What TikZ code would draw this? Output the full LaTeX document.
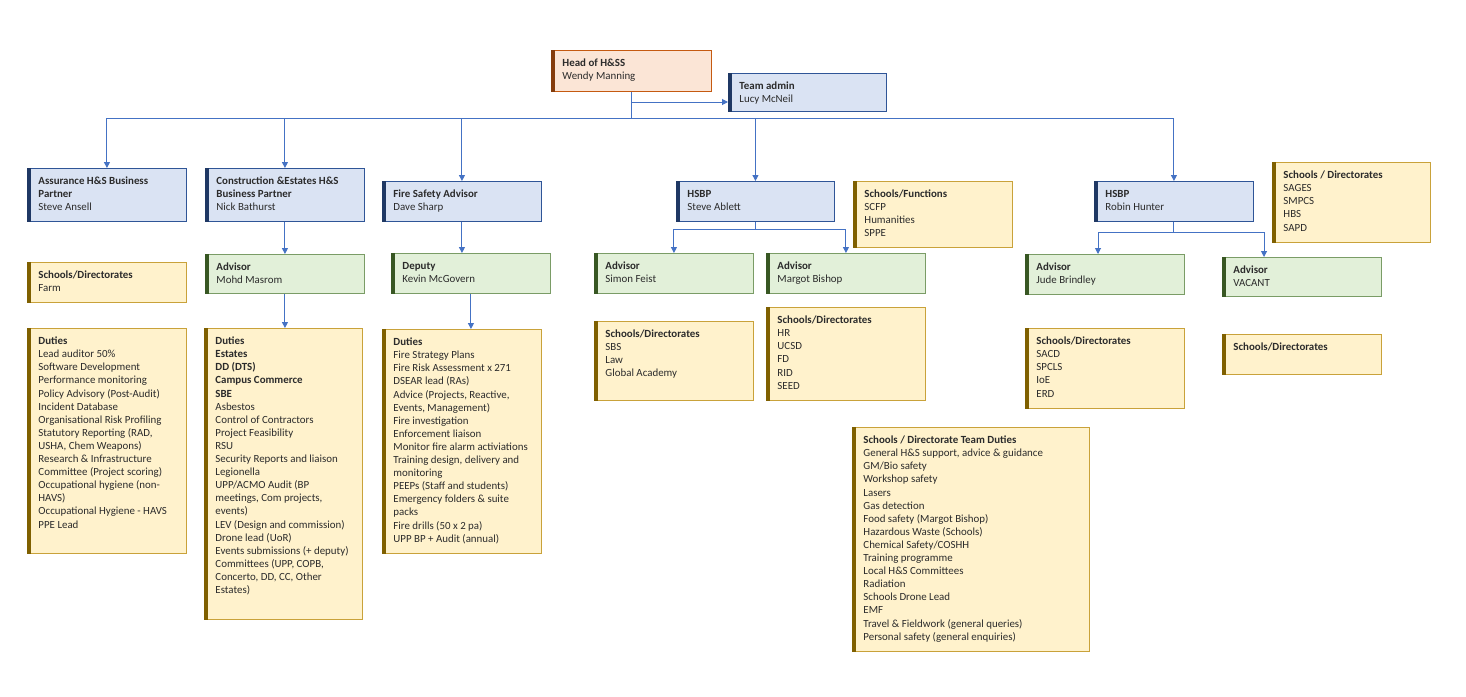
\documentclass[tikz,border=0pt]{standalone}
\usepackage{fontspec}
\setmainfont{Carlito}
\usetikzlibrary{arrows.meta}
\definecolor{txt}{HTML}{2B2B2B}
\definecolor{bluefill}{HTML}{DAE3F3}\definecolor{blueline}{HTML}{2F5597}\definecolor{bluebar}{HTML}{1F3864}
\definecolor{greenfill}{HTML}{E2F0D9}\definecolor{greenline}{HTML}{7A9C66}\definecolor{greenbar}{HTML}{385723}
\definecolor{yellowfill}{HTML}{FFF2CC}\definecolor{yellowline}{HTML}{C9A23A}\definecolor{yellowbar}{HTML}{7F6000}
\definecolor{orangefill}{HTML}{FBE5D6}\definecolor{orangeline}{HTML}{C55A11}\definecolor{orangebar}{HTML}{843C0C}
\definecolor{connc}{HTML}{4472C4}
\tikzset{
  orgnode/.style={rectangle, inner xsep=0pt, inner ysep=7pt, line width=0.9pt, text=txt,
    font=\fontsize{10.9}{13.1}\selectfont},
  bluebox/.style={orgnode, draw=blueline, fill=bluefill},
  greenbox/.style={orgnode, draw=greenline, fill=greenfill},
  yellowbox/.style={orgnode, draw=yellowline, fill=yellowfill},
  orangebox/.style={orgnode, draw=orangeline, fill=orangefill},
  link/.style={draw=connc, line width=1pt},
  linkarrow/.style={link, -{Triangle[length=6pt,width=6pt]}},
}
% #1 extra style, #2 name, #3 kind, #4 x1, #5 y1, #6 x2, #7 y2, #8 text
\newcommand\orgbox[8][]{%
  \pgfmathsetmacro\obw{#6-#4}%
  \pgfmathsetmacro\obh{#7-#5}%
  \pgfmathsetmacro\otw{#6-#4-11}%
  \pgfmathsetmacro\oth{#7-#5-14}%
  \node[#3box, minimum width=\obw pt, minimum height=\obh pt, anchor=north west, #1] (#2) at (#4,#5)
    {\hspace*{11pt}\parbox[c][\oth pt][t]{\otw pt}{\raggedright\strut #8}};
  \fill[#3bar] (#2.north west) rectangle ([xshift=4pt]#2.south west);
}
\begin{document}
\begin{tikzpicture}[x=1pt,y=-1pt]
\fill[white] (0,0) rectangle (1466,696);
\useasboundingbox (0,0) rectangle (1466,696);

\orgbox{head}{orange}{551}{50}{711}{91}{\textbf{Head of H\&SS}\\Wendy Manning}
\orgbox{admin}{blue}{728}{73}{886}{111}{\textbf{Team admin}\\Lucy McNeil}
\orgbox{assur}{blue}{27}{168}{186}{221}{\textbf{Assurance H\&S Business}\\\textbf{Partner}\\Steve Ansell}
\orgbox{constr}{blue}{205}{168}{364}{221}{\textbf{Construction \&Estates H\&S}\\\textbf{Business Partner}\\Nick Bathurst}
\orgbox{fire}{blue}{382}{181}{541}{221}{\textbf{Fire Safety Advisor}\\Dave Sharp}
\orgbox{steve}{blue}{676}{181}{834}{221}{\textbf{HSBP}\\Steve Ablett}
\orgbox{sfunc}{yellow}{853}{181}{1012}{247}{\textbf{Schools/Functions}\\SCFP\\Humanities\\SPPE}
\orgbox{robin}{blue}{1094}{181}{1253}{221}{\textbf{HSBP}\\Robin Hunter}
\orgbox{sages}{yellow}{1272}{162}{1430}{242}{\textbf{Schools / Directorates}\\SAGES\\SMPCS\\HBS\\SAPD}

\orgbox{farm}{yellow}{27}{262}{186}{302}{\textbf{Schools/Directorates}\\Farm}
\orgbox{mohd}{green}{205}{254}{364}{293}{\textbf{Advisor}\\Mohd Masrom}
\orgbox{deputy}{green}{391}{253}{550}{293}{\textbf{Deputy}\\Kevin McGovern}
\orgbox{simon}{green}{594}{253}{753}{293}{\textbf{Advisor}\\Simon Feist}
\orgbox{margot}{green}{766}{253}{925}{293}{\textbf{Advisor}\\Margot Bishop}
\orgbox{jude}{green}{1025}{254}{1184}{294}{\textbf{Advisor}\\Jude Brindley}
\orgbox{vacant}{green}{1222}{257}{1381}{296}{\textbf{Advisor}\\VACANT}

\orgbox{aduties}{yellow}{27}{328}{186}{553}{\textbf{Duties}\\Lead auditor 50\%\\Software Development\\Performance monitoring\\Policy Advisory (Post-Audit)\\Incident Database\\Organisational Risk Profiling\\Statutory Reporting (RAD,\\USHA, Chem Weapons)\\Research \& Infrastructure\\Committee (Project scoring)\\Occupational hygiene (non-\\HAVS)\\Occupational Hygiene - HAVS\\PPE Lead}
\orgbox{cduties}{yellow}{204}{328}{362}{619}{\textbf{Duties}\\\textbf{Estates}\\\textbf{DD (DTS)}\\\textbf{Campus Commerce}\\\textbf{SBE}\\Asbestos\\Control of Contractors\\Project Feasibility\\RSU\\Security Reports and liaison\\Legionella\\UPP/ACMO Audit (BP\\meetings, Com projects,\\events)\\LEV (Design and commission)\\Drone lead (UoR)\\Events submissions (+ deputy)\\Committees (UPP, COPB,\\Concerto, DD, CC, Other\\Estates)}
\orgbox{fduties}{yellow}{382}{329}{541}{553}{\textbf{Duties}\\Fire Strategy Plans\\Fire Risk Assessment x 271\\DSEAR lead (RAs)\\Advice (Projects, Reactive,\\Events, Management)\\Fire investigation\\Enforcement liaison\\Monitor fire alarm activiations\\Training design, delivery and\\monitoring\\PEEPs (Staff and students)\\Emergency folders \& suite\\packs\\Fire drills (50 x 2 pa)\\UPP BP + Audit (annual)}
\orgbox{sbs}{yellow}{594}{321}{753}{400}{\textbf{Schools/Directorates}\\SBS\\Law\\Global Academy}
\orgbox{hr}{yellow}{766}{307}{925}{400}{\textbf{Schools/Directorates}\\HR\\UCSD\\FD\\RID\\SEED}
\orgbox{sacd}{yellow}{1025}{328}{1184}{408}{\textbf{Schools/Directorates}\\SACD\\SPCLS\\IoE\\ERD}
\orgbox{emptysd}{yellow}{1222}{334}{1381}{374}{\textbf{Schools/Directorates}}
\orgbox{tduties}{yellow}{852}{427}{1089}{651}{\textbf{Schools / Directorate Team Duties}\\General H\&S support, advice \& guidance\\GM/Bio safety\\Workshop safety\\Lasers\\Gas detection\\Food safety (Margot Bishop)\\Hazardous Waste (Schools)\\Chemical Safety/COSHH\\Training programme\\Local H\&S Committees\\Radiation\\Schools Drone Lead\\EMF\\Travel \& Fieldwork (general queries)\\Personal safety (general enquiries)}

% connectors
\coordinate (bus) at (0,118);
\coordinate (adm) at (0,102);
\coordinate (sj) at (0,229);
\coordinate (rj) at (0,232);
\coordinate (judein) at (1098,0);
\coordinate (vacin) at (1264,0);
\draw[link] (head.south) -- (head.south |- bus);
\draw[link] (assur.north |- bus) -- (robin.north |- bus);
\draw[linkarrow] (head.south |- adm) -- (admin.west |- adm);
\foreach \n in {assur,constr,fire,steve,robin}
  \draw[linkarrow] (\n.north |- bus) -- (\n.north);
\draw[linkarrow] (constr.south) -- (constr.south |- mohd.north);
\draw[linkarrow] (mohd.south) -- (mohd.south |- cduties.north);
\draw[linkarrow] (fire.south) -- (fire.south |- deputy.north);
\draw[linkarrow] (deputy.south) -- (deputy.south |- fduties.north);
\draw[link] (steve.south) -- (steve.south |- sj);
\draw[linkarrow] (steve.south |- sj) -| (simon.north);
\draw[linkarrow] (steve.south |- sj) -| (margot.north);
\draw[link] (robin.south) -- (robin.south |- rj);
\draw[linkarrow] (robin.south |- rj) -| (judein |- jude.north);
\draw[linkarrow] (robin.south |- rj) -| (vacin |- vacant.north);
\end{tikzpicture}
\end{document}
